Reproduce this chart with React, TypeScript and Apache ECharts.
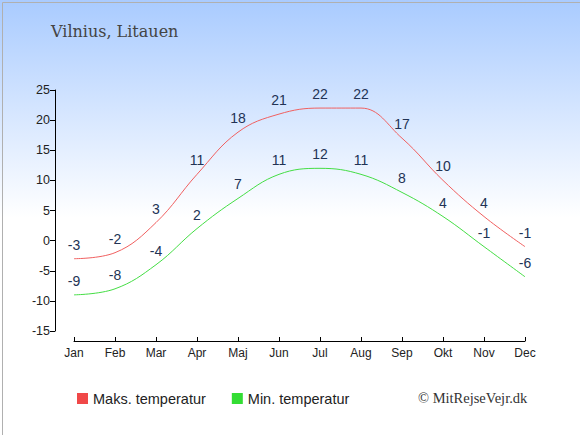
import React, { useEffect, useRef } from "react";
import * as echarts from "echarts";

const months = ["Jan", "Feb", "Mar", "Apr", "Maj", "Jun", "Jul", "Aug", "Sep", "Okt", "Nov", "Dec"];
const maxTemp = [-3, -2, 3, 11, 18, 21, 22, 22, 17, 10, 4, -1];
const minTemp = [-9, -8, -4, 2, 7, 11, 12, 11, 8, 4, -1, -6];
const titleText = "Vilnius, Litauen";
const maxName = "Maks. temperatur";
const minName = "Min. temperatur";
const credit = "© MitRejseVejr.dk";

export default function App() {
  const ref = useRef<HTMLDivElement>(null);
  useEffect(() => {
    if (!ref.current) return;
    const chart = echarts.init(ref.current, null, { renderer: "svg" });
    const labelStyle = {
      show: true,
      position: "top" as const,
      distance: 7,
      color: "#223355",
      fontSize: 14,
      fontFamily: "Liberation Sans, Arial, sans-serif",
    };
    chart.setOption({
      animation: false,
      backgroundColor: {
        type: "linear",
        x: 0, y: 0, x2: 0, y2: 1,
        colorStops: [
          { offset: 0, color: "#a9cbff" },
          { offset: 0.5, color: "#ffffff" },
          { offset: 1, color: "#ffffff" },
        ],
      },
      graphic: [
        {
          type: "rect",
          left: 0, top: 0,
          shape: { x: 0.5, y: 0.5, width: 579, height: 434 },
          style: { fill: "none", stroke: "#b0b0b0", lineWidth: 1 },
          silent: true,
        },
        {
          type: "text",
          left: 51, top: 23,
          style: { text: titleText, fill: "#444444", fontSize: 16, fontFamily: "DejaVu Serif, serif" },
        },
        {
          type: "text",
          left: 418, top: 390,
          style: { text: credit, fill: "#333333", fontSize: 14.5, fontFamily: "Liberation Serif, serif" },
        },
      ],
      legend: {
        left: 72, top: 386,
        icon: "rect",
        itemWidth: 11, itemHeight: 11,
        itemGap: 26,
        textStyle: { fontSize: 14.5, color: "#222222", fontFamily: "Liberation Sans, Arial, sans-serif" },
        data: [{ name: maxName }, { name: minName }],
      },
      grid: { left: 74, right: 55, top: 90, bottom: 104 },
      xAxis: {
        type: "category",
        data: months,
        boundaryGap: false,
        offset: 10,
        axisLine: { onZero: false, lineStyle: { color: "#000", width: 1 } },
        axisTick: { inside: true, length: 4, alignWithLabel: true, lineStyle: { color: "#000" } },
        axisLabel: { color: "#222", fontSize: 12, margin: 6, fontFamily: "Liberation Sans, Arial, sans-serif" },
        splitLine: { show: false },
      },
      yAxis: {
        type: "value",
        min: -15, max: 25, interval: 5,
        offset: 19,
        axisLine: { show: true, lineStyle: { color: "#000", width: 1 } },
        axisTick: { show: true, length: 5, lineStyle: { color: "#000" } },
        axisLabel: { color: "#222", fontSize: 12.5, margin: 5, fontFamily: "Liberation Sans, Arial, sans-serif" },
        splitLine: { show: false },
      },
      series: [
        {
          name: maxName,
          type: "line",
          data: maxTemp,
          smooth: 0.4,
          symbol: "circle",
          symbolSize: 0.01,
          showSymbol: true,
          color: "#f04848",
          lineStyle: { color: "#f06060", width: 1 },
          label: labelStyle,
        },
        {
          name: minName,
          type: "line",
          data: minTemp,
          smooth: 0.4,
          symbol: "circle",
          symbolSize: 0.01,
          showSymbol: true,
          color: "#33dd33",
          lineStyle: { color: "#44dd44", width: 1 },
          label: labelStyle,
        },
      ],
    });
    return () => chart.dispose();
  }, []);
  return <div ref={ref} style={{ position: "fixed", left: 0, top: 0, width: 580, height: 435 }} />;
}
